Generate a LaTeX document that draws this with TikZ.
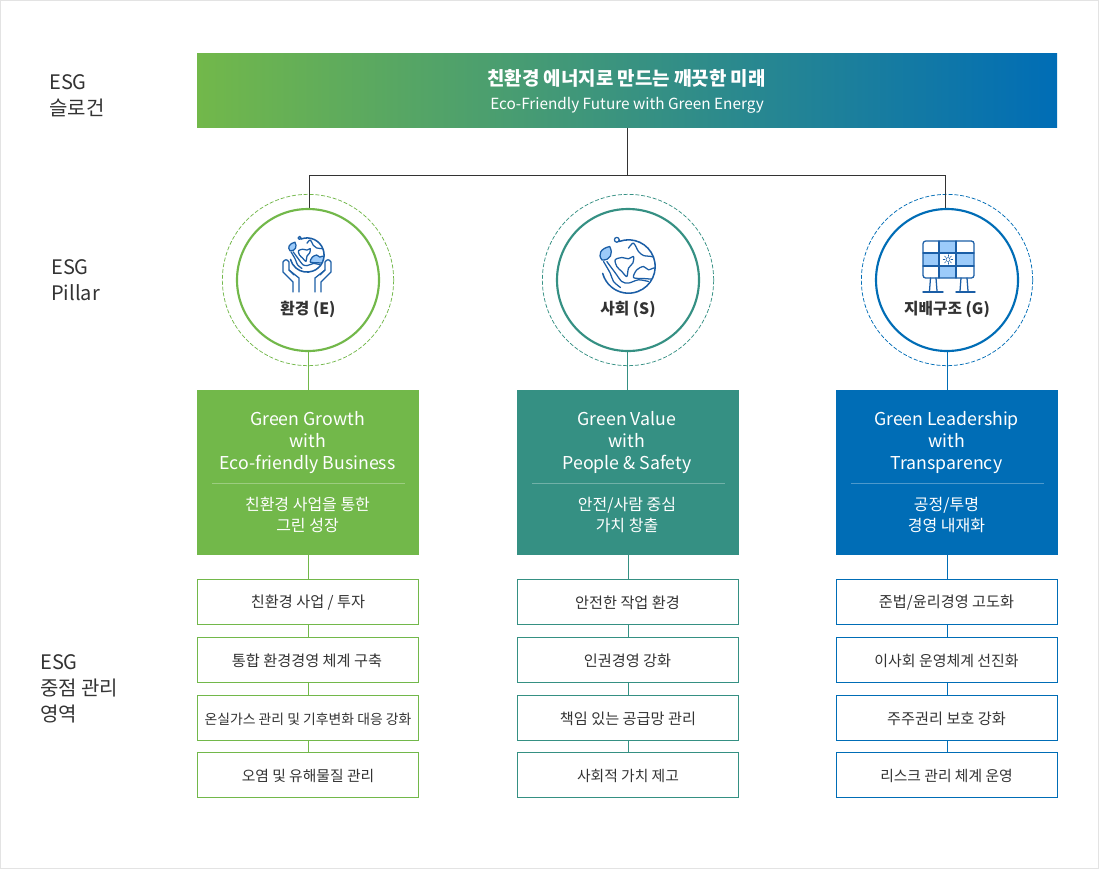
\documentclass[tikz,border=0pt]{standalone}
\usepackage{fontspec}
\setmainfont{Noto Sans CJK KR}
\definecolor{greenE}{HTML}{72B84A}
\definecolor{tealS}{HTML}{359083}
\definecolor{blueG}{HTML}{006DB6}
\definecolor{iconline}{HTML}{1B5EA6}
\definecolor{iconfill}{HTML}{9CCBFA}
\definecolor{ink}{HTML}{333333}
\tikzset{
  sidelabel/.style={anchor=west,align=left,inner sep=0pt,text=ink,font=\fontsize{15}{19.6}\selectfont},
  ring/.style={circle,draw=#1,line width=1.6pt,fill=white,minimum size=106.5pt,inner sep=0pt,outer sep=0pt},
  halo/.style={circle,draw=#1,line width=.55pt,dash pattern=on 3pt off 1.4pt,minimum size=128.5pt,inner sep=0pt,outer sep=0pt},
  ringlabel/.style={text=ink,font=\fontsize{11.8}{14}\selectfont\bfseries},
  pillar/.style={draw=none,fill=#1,minimum width=166.5pt,minimum height=123.75pt,inner sep=0pt,outer sep=0pt},
  pillartitle/.style={text=white,align=center,font=\fontsize{13.3}{16.5}\selectfont},
  pillartext/.style={text=white,align=center,font=\fontsize{12}{15.8}\selectfont},
  item/.style={draw=#1,fill=white,line width=.75pt,minimum width=165.75pt,minimum height=33.75pt,inner sep=0pt,outer sep=0pt,text=ink,font=\fontsize{11.4}{13}\selectfont},
  itemtext/.style={text=ink,font=\fontsize{11.4}{13}\selectfont},
  link/.style={draw=#1,line width=.75pt},
  icon/.style={draw=iconline,line width=.95pt,line join=round,line cap=round}
}
\newcommand{\globeicon}[4]{%
  \begin{scope}[shift={(#1,#2)},scale=#3]
  \begin{scope}
  \clip (0,0) circle (26.7);
  \draw[icon,fill=#4] plot[smooth cycle] coordinates {(5,11) (8.3,3.3) (15,0) (20,3.3) (27,1.6) (29,12) (15,12)};
  \draw[icon] plot[smooth cycle] coordinates {(-13.3,-6.7) (-6.7,-9) (0,-7.7) (5,-10) (4.3,-3.4) (0,1.6) (-1.7,10) (-6.7,5) (-11.7,0)};
  \draw[icon] plot[smooth] coordinates {(0,-18.4) (5,-23.4) (10,-15) (15,-11) (23,-10) (28,-8)};
  \draw[icon] plot[smooth] coordinates {(-25,-5) (-18.3,6.6) (-15,15) (-8,21)};
  \draw[icon] plot[smooth] coordinates {(-21.7,-5) (-13.3,6.3) (-6.7,15) (0,16.6) (10,13.3) (20,15)};
  \end{scope}
  \draw[icon,line width=1.15pt] (-110:26.7) arc (-110:165:26.7);
  \draw[icon,fill=iconfill] (-18.8,-20) .. controls (-15,-13) and (-18,-6) .. (-26.5,-6.5) .. controls (-31,-12) and (-28,-18) .. (-18.8,-20) -- cycle;
  \draw[icon] (-11.7,-26.7) circle (2.4) (-9.3,-26.7) -- (-9.1,-25);
  \end{scope}
}
\begin{document}
\begin{tikzpicture}[x=.75pt,y=-.75pt]
\useasboundingbox (0,0) rectangle (1099,869);
\draw[color=black!11,line width=1pt,fill=white] (.7,.7) rectangle (1098.3,868.3);

\node[sidelabel] (labelA) at (49,96) {ESG\\슬로건};
\node[sidelabel] (labelB) at (51,280.5) {ESG\\Pillar};
\node[sidelabel] (labelC) at (40,688.5) {ESG\\중점 관리\\영역};

\node[minimum width=645pt,minimum height=56pt,inner sep=0pt,outer sep=0pt,left color=greenE,right color=blueG] (banner) at (627,90.6) {};
\node[text=white,font=\fontsize{14.2}{17}\selectfont\bfseries] (bannertitle) at (626.5,78) {친환경 에너지로 만드는 깨끗한 미래};
\node[text=white,font=\fontsize{11.5}{14}\selectfont] (bannersub) at (627,105) {Eco-Friendly Future with Green Energy};

\node[halo=greenE] (haloE) at (308,280) {};
\node[halo=tealS] (haloS) at (628,280) {};
\node[halo=blueG] (haloG) at (947,280) {};
\coordinate (bus) at (627,175);
\draw[link=ink] (banner.south) -- (bus);
\draw[link=ink] (bus) -| (309,209);
\draw[link=ink] (bus) -| (945.5,209);
\node[ring=greenE] (ringE) at (308,280) {};
\node[ring=tealS] (ringS) at (628,280) {};
\node[ring=blueG] (ringG) at (947,280) {};
\node[ringlabel] (nameE) at (308,309) {환경 (E)};
\node[ringlabel] (nameS) at (628,309) {사회 (S)};
\node[ringlabel] (nameG) at (947,309) {지배구조 (G)};

% globe held in two hands
\globeicon{307}{255}{.64}{iconfill}
\foreach \m in {1,-1}{
  \begin{scope}[shift={(307,0)},xscale=\m]
  \draw[icon] (-14,292) -- (-14,282) -- (-24,272) -- (-24,262) .. controls (-22,259) and (-20,259) .. (-18,262) -- (-18,270) -- (-8,278) -- (-8,292);
  \draw[icon] (-18,270) -- (-13,275);
  \end{scope}
}

% globe with leaf
\globeicon{628.5}{266.5}{1}{white}

% solar panel
\fill[iconfill] (939,241) rectangle (956,278);
\fill[iconfill] (923,253) rectangle (974,266);
\fill[white] (939.5,253.5) rectangle (955.5,265.5);
\draw[icon,rounded corners=2pt] (923,241) rectangle (974,278);
\draw[icon] (939,241) -- (939,278) (956,241) -- (956,278) (923,253) -- (974,253) (923,266) -- (974,266);
\draw[icon,line width=.4pt] (948,259.5) circle (2);
\foreach \a in {0,45,...,315}{
  \draw[icon,line width=.35pt] (948,259.5) ++(\a:3) -- ++(\a:1.8);
}
\draw[icon] (930.5,278) -- (929.5,291) (936,278) -- (937,291) (961,278) -- (960,291) (967,278) -- (968,291);
\draw[icon,line width=1.1pt] (923,292) -- (943,292) (956,292) -- (975,292);

\node[pillar=greenE] (pillarE) at (308,472.5) {};
\node[pillar=tealS] (pillarS) at (628,472.5) {};
\node[pillar=blueG] (pillarG) at (947,472.5) {};
\draw[link=greenE] (ringE) -- (pillarE);
\draw[link=tealS] ([xshift=-.75pt]ringS.south) -- ([xshift=-.75pt]pillarS.north);
\draw[link=blueG] (ringG) -- (pillarG);

\node[pillartitle] (titleE) at (307.5,443) {Green Growth\\with\\Eco-friendly Business};
\node[pillartitle] (titleS) at (627,443) {Green Value\\with\\People \& Safety};
\node[pillartitle] (titleG) at (946.5,443) {Green Leadership\\with\\Transparency};
\draw[white,opacity=.3,line width=.75pt] (212,483) -- (405,483) (532,483) -- (725,483) (851,483) -- (1044,483);
\node[pillartext] (textE) at (307.5,515) {친환경 사업을 통한\\그린 성장};
\node[pillartext] (textS) at (627,515) {안전/사람 중심\\가치 창출};
\node[pillartext] (textG) at (946.5,515) {공정/투명\\경영 내재화};

\node[item=greenE] (itemE1) at (308,602) {};
\node[item=greenE] (itemE2) at (308,660) {};
\node[item=greenE] (itemE3) at (308,718) {};
\node[item=greenE] (itemE4) at (308,775) {};
\node[item=tealS] (itemS1) at (628,602) {};
\node[item=tealS] (itemS2) at (628,660) {};
\node[item=tealS] (itemS3) at (628,718) {};
\node[item=tealS] (itemS4) at (628,775) {};
\node[item=blueG] (itemG1) at (947,602) {};
\node[item=blueG] (itemG2) at (947,660) {};
\node[item=blueG] (itemG3) at (947,718) {};
\node[item=blueG] (itemG4) at (947,775) {};

\node[itemtext] (labelE1) at (308,603) {친환경 사업 / 투자};
\node[itemtext] (labelE2) at (307,661) {통합 환경경영 체계 구축};
\node[itemtext,font=\fontsize{10.4}{13}\selectfont] (labelE3) at (308,719) {온실가스 관리 및 기후변화 대응 강화};
\node[itemtext,font=\fontsize{11.1}{13}\selectfont] (labelE4) at (308,776) {오염 및 유해물질 관리};
\node[itemtext] (labelS1) at (627.5,603) {안전한 작업 환경};
\node[itemtext] (labelS2) at (627.5,661) {인권경영 강화};
\node[itemtext] (labelS3) at (628,719) {책임 있는 공급망 관리};
\node[itemtext,font=\fontsize{11.1}{13}\selectfont] (labelS4) at (628,776) {사회적 가치 제고};
\node[itemtext] (labelG1) at (946.5,603) {준법/윤리경영 고도화};
\node[itemtext,font=\fontsize{11.2}{13}\selectfont] (labelG2) at (946.5,661) {이사회 운영체계 선진화};
\node[itemtext] (labelG3) at (946.5,719) {주주권리 보호 강화};
\node[itemtext,font=\fontsize{11.1}{13}\selectfont] (labelG4) at (946.5,776) {리스크 관리 체계 운영};

\draw[link=greenE] (pillarE) -- (itemE1);
\draw[link=greenE] (itemE1) -- (itemE2);
\draw[link=greenE] (itemE2) -- (itemE3);
\draw[link=greenE] (itemE3) -- (itemE4);
\draw[link=tealS] (pillarS) -- (itemS1);
\draw[link=tealS] (itemS1) -- (itemS2);
\draw[link=tealS] (itemS2) -- (itemS3);
\draw[link=tealS] (itemS3) -- (itemS4);
\draw[link=blueG] (pillarG) -- (itemG1);
\draw[link=blueG] (itemG1) -- (itemG2);
\draw[link=blueG] (itemG2) -- (itemG3);
\draw[link=blueG] (itemG3) -- (itemG4);
\end{tikzpicture}
\end{document}
